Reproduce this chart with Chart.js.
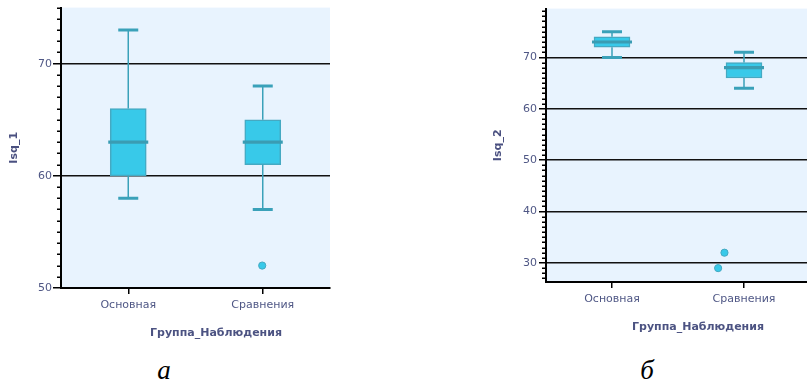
<!DOCTYPE html>
<html>
<head>
<meta charset="utf-8">
<script src="https://cdn.jsdelivr.net/npm/chart.js@4.4.1/dist/chart.umd.min.js"></script>
<style>
  html, body { margin: 0; padding: 0; background: #fff; }
  body { width: 807px; height: 384px; position: relative; overflow: hidden; }
  .panel { position: absolute; top: 0; width: 340px; height: 340px; }
  .xtitle { position: absolute; font: bold 11px "DejaVu Sans", sans-serif; color: #4c5382;
            transform: translate(-50%, -50%); white-space: nowrap; }
  .letter { position: absolute; font: italic 27px "Liberation Serif", "DejaVu Serif", serif; color: #000;
            transform: translateX(-50%); line-height: 1; }
</style>
</head>
<body>
<div class="panel" style="left:0px"><canvas id="chartA" width="340" height="340"></canvas></div>
<div class="panel" style="left:480px"><canvas id="chartB" width="340" height="340"></canvas></div>
<div class="xtitle" style="left:216px; top:332px">Группа_Наблюдения</div>
<div class="xtitle" style="left:698px; top:326px">Группа_Наблюдения</div>
<div class="letter" style="left:164px; top:357px">а</div>
<div class="letter" style="left:647px; top:357px">б</div>
<script>
// Groups on the x axis
const categories = ['Основная', 'Сравнения'];

// Isq_1: whisker ends, quartiles and medians per group
const isq1Low    = [58, 57];
const isq1Q1     = [60, 61];
const isq1Median = [63, 63];
const isq1Q3     = [66, 65];
const isq1High   = [73, 68];
const isq1Outliers = [[], [52]];
const isq1Ticks  = [50, 60, 70];

// Isq_2: whisker ends, quartiles and medians per group
const isq2Low    = [70, 64];
const isq2Q1     = [72, 66];
const isq2Median = [73, 68];
const isq2Q3     = [74, 69];
const isq2High   = [75, 71];
const isq2Outliers = [[], [32, 29]];
const isq2Ticks  = [30, 40, 50, 60, 70];

const TICK_COLOR = '#4f5785';
const BOX_FILL = '#38c9e9';
const BOX_EDGE = '#45a9c2';
const WHISKER = '#3aa1b9';
const MEDIAN = '#3a9cb3';

// Plot background
const plotBackground = {
  id: 'plotBackground',
  beforeDraw(chart) {
    const { ctx, chartArea: a } = chart;
    ctx.save();
    ctx.fillStyle = '#e8f3fe';
    ctx.fillRect(a.left, a.top, a.right - a.left, a.bottom - a.top);
    ctx.restore();
  }
};

// Whiskers, caps and median lines drawn on top of the quartile bars
const boxWhiskers = {
  id: 'boxWhiskers',
  afterDatasetsDraw(chart, args, opts) {
    const { ctx, scales: { x, y } } = chart;
    ctx.save();
    opts.median.forEach((m, i) => {
      const cx = x.getPixelForValue(i);
      const yLow = y.getPixelForValue(opts.low[i]);
      const yQ1 = y.getPixelForValue(opts.q1[i]);
      const yQ3 = y.getPixelForValue(opts.q3[i]);
      const yHigh = y.getPixelForValue(opts.high[i]);
      const yMed = y.getPixelForValue(m);
      ctx.strokeStyle = WHISKER;
      ctx.lineWidth = 1.5;
      ctx.beginPath();
      ctx.moveTo(cx, yQ3); ctx.lineTo(cx, yHigh);
      ctx.moveTo(cx, yQ1); ctx.lineTo(cx, yLow);
      ctx.stroke();
      ctx.lineWidth = 3;
      ctx.beginPath();
      ctx.moveTo(cx - 10, yHigh); ctx.lineTo(cx + 10, yHigh);
      ctx.moveTo(cx - 10, yLow); ctx.lineTo(cx + 10, yLow);
      ctx.stroke();
      ctx.strokeStyle = MEDIAN;
      ctx.lineWidth = 3.2;
      ctx.beginPath();
      ctx.moveTo(cx - 20, yMed); ctx.lineTo(cx + 20, yMed);
      ctx.stroke();
    });
    ctx.restore();
  }
};

// Unlabelled unit ticks on the value axis
const minorTicks = {
  id: 'minorTicks',
  afterDraw(chart) {
    const { ctx, scales: { y } } = chart;
    ctx.save();
    ctx.strokeStyle = '#000';
    ctx.lineWidth = 1.5;
    ctx.beginPath();
    for (let v = Math.ceil(y.min); v <= Math.floor(y.max); v++) {
      if (v % 10 === 0) continue;
      const py = Math.round(y.getPixelForValue(v)) + 0.25;
      ctx.moveTo(y.right - 4, py);
      ctx.lineTo(y.right, py);
    }
    ctx.stroke();
    ctx.restore();
  }
};

function buildChart(id, s) {
  const boxes = s.q1.map((q, i) => [q, s.q3[i]]);
  const points = [];
  s.outliers.forEach((list, i) => list.forEach((v, k) => points.push({ x: i + s.jitter[i][k], y: v })));
  return new Chart(document.getElementById(id), {
    type: 'bar',
    data: {
      labels: categories,
      datasets: [
        {
          type: 'bar',
          data: boxes,
          backgroundColor: BOX_FILL,
          borderColor: BOX_EDGE,
          borderWidth: 1.5,
          borderSkipped: false,
          barThickness: 36,
          grouped: false
        },
        {
          type: 'scatter',
          xAxisID: 'xo',
          data: points,
          pointRadius: 3.6,
          pointBackgroundColor: BOX_FILL,
          pointBorderColor: BOX_EDGE,
          pointBorderWidth: 1
        }
      ]
    },
    options: {
      responsive: false,
      animation: false,
      events: [],
      layout: { padding: { top: 6, right: 10, left: 0, bottom: 0 } },
      plugins: {
        legend: { display: false },
        tooltip: { enabled: false },
        boxWhiskers: { low: s.low, q1: s.q1, median: s.median, q3: s.q3, high: s.high }
      },
      scales: {
        x: {
          type: 'category',
          offset: true,
          afterFit(scale) { scale.height = 340 - s.bottom; },
          border: { color: '#000', width: 2 },
          grid: { display: true, drawOnChartArea: false, offset: false, color: '#000', lineWidth: 1.5, tickLength: 6 },
          ticks: { color: TICK_COLOR, font: { family: 'DejaVu Sans', size: 11 }, padding: 5 }
        },
        xo: {
          type: 'linear',
          display: false,
          min: -0.5,
          max: 1.5
        },
        y: {
          type: 'linear',
          min: s.min,
          max: s.max,
          afterFit(scale) { scale.width = s.axisWidth; },
          afterBuildTicks(scale) { scale.ticks = s.ticks.map(v => ({ value: v })); },
          border: { color: '#000', width: 2 },
          grid: { color: '#111', lineWidth: 1.5, tickLength: s.tickLength, tickColor: '#000' },
          ticks: { color: TICK_COLOR, font: { family: 'DejaVu Sans', size: 11 }, padding: s.tickPad },
          title: {
            display: true,
            text: s.title,
            color: '#4a5080',
            font: { family: 'DejaVu Sans', size: 11, weight: 'bold' },
            padding: { top: s.titlePad, bottom: 0 }
          }
        }
      }
    },
    plugins: [plotBackground, boxWhiskers, minorTicks]
  });
}

buildChart('chartA', {
  title: 'Isq_1',
  low: isq1Low, q1: isq1Q1, median: isq1Median, q3: isq1Q3, high: isq1High,
  outliers: isq1Outliers, jitter: [[], [0.12]],
  ticks: isq1Ticks, min: 50, max: 75,
  axisWidth: 61, bottom: 288, tickLength: 8, tickPad: 1, titlePad: 7.4
});

buildChart('chartB', {
  title: 'Isq_2',
  low: isq2Low, q1: isq2Q1, median: isq2Median, q3: isq2Q3, high: isq2High,
  outliers: isq2Outliers, jitter: [[], [-0.06, -0.12]],
  ticks: isq2Ticks, min: 26.3, max: 79.5,
  axisWidth: 66, bottom: 282, tickLength: 7, tickPad: 2, titlePad: 11.4
});
</script>
</body>
</html>
